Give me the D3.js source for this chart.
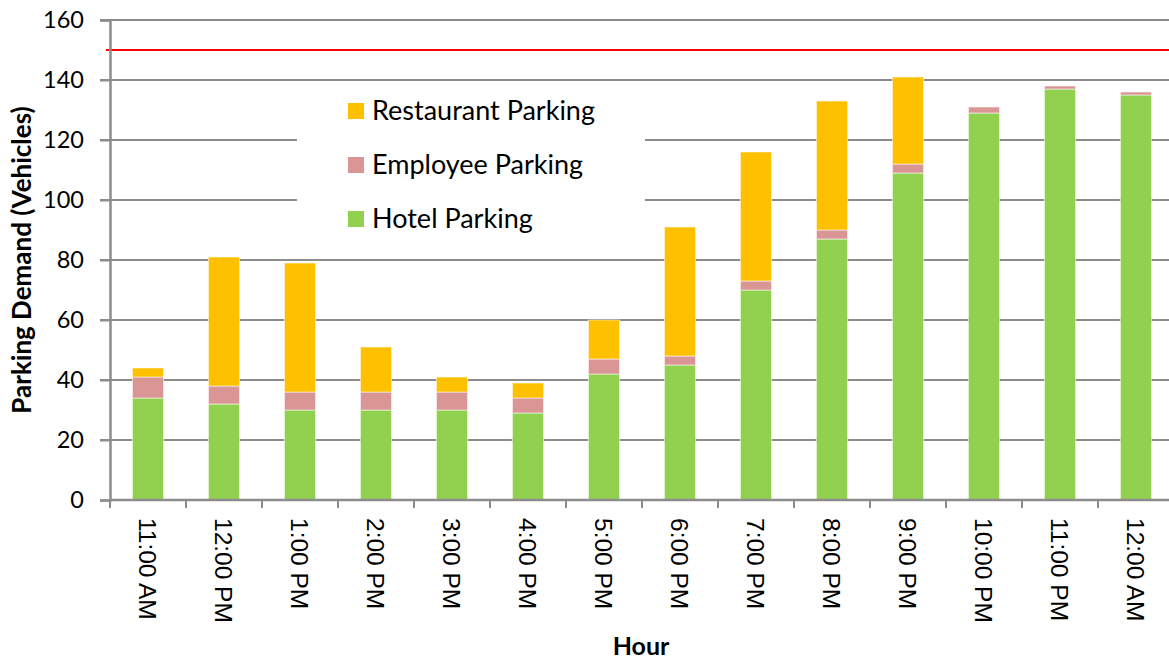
<!DOCTYPE html>
<html><head><meta charset="utf-8">
<script src="https://cdn.jsdelivr.net/npm/d3@7"></script>
<style>body{margin:0;background:#fff}svg{display:block}</style>
</head><body><svg id="c" width="1169" height="660"></svg>
<script>
const categories = ["11:00 AM","12:00 PM","1:00 PM","2:00 PM","3:00 PM","4:00 PM","5:00 PM","6:00 PM","7:00 PM","8:00 PM","9:00 PM","10:00 PM","11:00 PM","12:00 AM"];
const hotel      = [34, 32, 30, 30, 30, 29, 42, 45, 70, 87, 109, 129, 137, 135];
const employee   = [7, 6, 6, 6, 6, 5, 5, 3, 3, 3, 3, 2, 1, 1];
const restaurant = [3, 43, 43, 15, 5, 5, 13, 43, 43, 43, 29, 0, 0, 0];
const capacity = 150;
const yTicks = [0,20,40,60,80,100,120,140,160];
const seriesNames = ["Hotel Parking","Employee Parking","Restaurant Parking"];
const colors = ["#92D050","#D99694","#FFC000"];

const svg = d3.select("#c");
const L = 110, R = 1174, T = 20, B = 500;
const x = d3.scaleBand().domain(categories).range([L, R]).paddingInner(0.59).paddingOuter(0.295);
const y = d3.scaleLinear().domain([0,160]).range([B, T]);
const gridColor = "#8c8c8c";

// gridlines
svg.append("g").selectAll("line").data(yTicks.filter(d=>d>0)).join("line")
  .attr("x1", L-10).attr("x2", 1169).attr("y1", d=>y(d)).attr("y2", d=>y(d))
  .attr("stroke", gridColor).attr("stroke-width", 2);

// stacked data
const rows = categories.map((c,i)=>({cat:c, "Hotel Parking":hotel[i], "Employee Parking":employee[i], "Restaurant Parking":restaurant[i]}));
const stack = d3.stack().keys(seriesNames)(rows);

// legend background (covers gridlines)
const lg = svg.append("g");
lg.append("rect").attr("x",297).attr("y",85).attr("width",348).attr("height",165).attr("fill","#fff");

svg.append("g").selectAll("g").data(stack).join("g")
  .attr("fill", (d,i)=>colors[i])
  .selectAll("rect").data(d=>d.filter(p=>p[1]-p[0]>0)).join("rect")
  .attr("x", d=>x(d.data.cat)).attr("width", x.bandwidth())
  .attr("y", d=>y(d[1])).attr("height", d=>y(d[0])-y(d[1]))
  .attr("stroke","rgba(255,255,255,0.55)").attr("stroke-width",1);

// capacity line
svg.append("line").attr("x1", L-4).attr("x2", 1169).attr("y1", y(capacity)).attr("y2", y(capacity))
  .attr("stroke","#FF0000").attr("stroke-width",2);

// y axis
const yAxis = svg.append("g").attr("transform",`translate(${L},0)`)
  .call(d3.axisLeft(y).tickValues(yTicks).tickSize(10).tickPadding(16));
yAxis.attr("font-family", null).attr("font-size", null);
yAxis.select(".domain").attr("stroke", gridColor).attr("stroke-width",2.5);
yAxis.selectAll(".tick line").attr("stroke", gridColor).attr("stroke-width",2);
yAxis.selectAll(".tick text").attr("font-family","Lato, 'Open Sans', sans-serif").attr("font-size",23.5).attr("fill","#000");

// x axis
const xAxis = svg.append("g").attr("transform",`translate(0,${B})`)
  .call(d3.axisBottom(x).tickSize(0).tickPadding(0));
xAxis.attr("font-family", null).attr("font-size", null);
xAxis.select(".domain").remove();
xAxis.append("line").attr("x1",L).attr("x2",1169).attr("y1",0).attr("y2",0).attr("stroke",gridColor).attr("stroke-width",2.5);
const bounds = categories.map((c)=>x(c) - x.step()*x.paddingInner()/2);
bounds.push(R);
xAxis.selectAll(".bnd").data(bounds).join("line").attr("class","bnd")
  .attr("x1",d=>d).attr("x2",d=>d).attr("y1",0).attr("y2",8)
  .attr("stroke",gridColor).attr("stroke-width",2);
xAxis.selectAll(".tick text")
  .attr("transform","rotate(90)")
  .attr("x",18).attr("y",0).attr("dy","0.35em")
  .attr("text-anchor","start")
  .attr("font-family","'Liberation Sans', Arial, sans-serif").attr("font-size",24.5).attr("fill","#000");

// legend
const legItems = ["Restaurant Parking","Employee Parking","Hotel Parking"];
const legColors = ["#FFC000","#D99694","#92D050"];
const li = lg.selectAll("g").data(legItems).join("g")
  .attr("transform",(d,i)=>`translate(348,${111 + i*54})`);
li.append("rect").attr("x",0).attr("y",-8).attr("width",16).attr("height",16).attr("fill",(d,i)=>legColors[i]);
li.append("text").attr("x",24).attr("y",0).attr("dy","0.35em").text(d=>d)
  .attr("font-family","Lato, 'Open Sans', sans-serif").attr("font-size",27).attr("fill","#000");

// axis titles
svg.append("text").attr("transform",`translate(31,${260}) rotate(-90)`).attr("text-anchor","middle")
  .attr("font-family","Lato, 'Open Sans', sans-serif").attr("font-weight","bold").attr("font-size",26)
  .text("Parking Demand (Vehicles)");
svg.append("text").attr("x",641).attr("y",655).attr("text-anchor","middle")
  .attr("font-family","Lato, 'Open Sans', sans-serif").attr("font-weight","bold").attr("font-size",25)
  .text("Hour");
</script></body></html>
